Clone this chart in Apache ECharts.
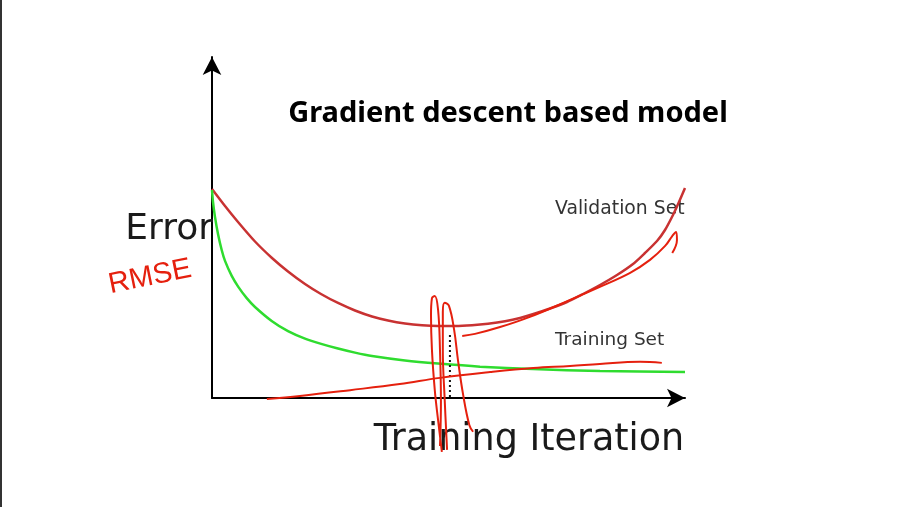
<!DOCTYPE html>
<html>
<head>
<meta charset="utf-8">
<script src="https://cdn.jsdelivr.net/npm/echarts@6/dist/echarts.min.js"></script>
<style>
html,body{margin:0;padding:0;background:#fff;}
#chart{width:910px;height:507px;}
</style>
</head>
<body>
<div id="chart"></div>
<script>
// Curves in axis units (x: 0..100 iterations, y: 0..100 error)
const validationX = [0, 2.75, 5.50, 9.09, 12.68, 16.07, 19.66, 23.04, 26.64, 30.23, 33.83, 37.21, 40.80, 44.40, 47.78, 51.37, 54.97, 58.35, 61.95, 65.12, 68.29, 71.46, 75.05, 78.44, 82.03, 85.62, 89.01, 91.54, 94.08, 95.77, 97.46, 98.73, 100];
const validationY = [61.29, 56.30, 51.61, 45.89, 41.06, 37.10, 33.43, 30.50, 27.86, 25.66, 23.90, 22.73, 21.85, 21.32, 21.11, 21.11, 21.32, 21.76, 22.49, 23.46, 24.78, 26.25, 28.15, 30.50, 33.14, 36.07, 39.30, 42.52, 46.04, 49.27, 53.67, 57.48, 61.58];
const trainingX = [0, 0.21, 0.63, 1.27, 2.05, 2.75, 4.17, 5.56, 7.34, 9.09, 12.62, 16.07, 19.66, 23.26, 26.64, 30.23, 33.83, 40.80, 47.78, 56.66, 67.86, 82.03, 100];
const trainingY = [61.0, 57.5, 53.1, 48.1, 43.4, 40.2, 35.8, 32.6, 29.3, 26.7, 22.6, 19.6, 17.4, 15.8, 14.5, 13.3, 12.3, 11.0, 10.1, 9.2, 8.5, 7.9, 7.6];

// Handwritten annotation strokes (axis units)
const strokeBottomX = [11.6, 18.6, 29.2, 39.7, 48.2, 58.8, 67.9, 75.7, 82.0, 90.5, 95.1];
const strokeBottomY = [-0.3, 0.6, 2.3, 4.1, 5.9, 7.6, 8.8, 9.4, 10.0, 10.6, 10.3];
const strokeArrowX = [52.9, 55.6, 60.9, 67.2, 75.1, 82.0, 88.4, 92.6, 95.8, 97.3, 98.1, 98.3, 97.3];
const strokeArrowY = [18.2, 18.8, 20.8, 23.8, 28.4, 32.6, 36.7, 40.5, 44.6, 47.5, 48.7, 46.3, 42.5];
const loopAX = [48.6, 47.8, 47.1, 46.5, 46.3, 46.5, 47.1, 47.8, 48.2, 48.4, 48.2];
const loopAY = [-15.8, -6.5, 2.3, 14.1, 24.3, 29.3, 29.9, 25.8, 14.1, -0.9, -14.1];
const loopBX = [49.7, 49.2, 48.8, 48.8, 49.2, 50.1, 51.2, 52.0, 53.1, 54.4, 55.2];
const loopBY = [-15.2, -0.6, 14.1, 25.2, 27.9, 27.0, 19.9, 11.1, 0.9, -7.9, -9.9];
const dottedX = [50.3, 50.3];
const dottedY = [18.5, 0];

const titleText = 'Gradient descent based model';
const yLabel = 'Error';
const xLabel = 'Training Iteration';
const validationLabel = 'Validation Set';
const trainingLabel = 'Training Set';
const noteText = 'RMSE';

function pairs(xs, ys) { return xs.map((x, i) => [x, ys[i]]); }

const chart = echarts.init(document.getElementById('chart'));
const axisCommon = {
  type: 'value', min: 0, max: 100,
  axisLine: { show: true, symbol: ['none', 'arrow'], symbolSize: [14, 18], symbolOffset: [0, 0],
    lineStyle: { color: '#000', width: 2 } },
  axisTick: { show: false }, axisLabel: { show: false }, splitLine: { show: false }
};
const annot = { color: '#e5200e', width: 2 };
chart.setOption({
  animation: false,
  grid: { left: 212, right: 225, top: 57, bottom: 109 },
  xAxis: Object.assign({}, axisCommon),
  yAxis: Object.assign({}, axisCommon),
  graphic: [
    { type: 'rect', left: 0, top: 0, shape: { width: 2, height: 507 }, style: { fill: '#333' }, z: 0 },
    { type: 'text', x: 508, y: 114, z: 1, style: { text: titleText, font: 'bold 29px "Noto Sans"', fill: '#000', textAlign: 'center', textVerticalAlign: 'middle' } },
    { type: 'text', x: 213, y: 230, z: 1, style: { text: yLabel, font: '36px "DejaVu Sans"', fill: '#1a1a1a', textAlign: 'right', textVerticalAlign: 'middle' } },
    { type: 'text', x: 529, y: 441, z: 1, style: { text: xLabel, font: '36.5px "DejaVu Sans"', fill: '#1a1a1a', textAlign: 'center', textVerticalAlign: 'middle' } },
    { type: 'text', x: 555, y: 209, z: 1, style: { text: validationLabel, font: '18.8px "DejaVu Sans"', fill: '#333', textAlign: 'left', textVerticalAlign: 'middle' } },
    { type: 'text', x: 555, y: 340, z: 1, style: { text: trainingLabel, font: '18.5px "DejaVu Sans"', fill: '#333', textAlign: 'left', textVerticalAlign: 'middle' } },
    { type: 'text', x: 150, y: 277, rotation: 0.2, z: 1, style: { text: noteText, font: '29px "Liberation Sans"', fill: '#e5200e', textAlign: 'center', textVerticalAlign: 'middle' } }
  ],
  series: [
    { type: 'line', data: pairs(validationX, validationY), smooth: 0.25, symbol: 'none', clip: false,
      lineStyle: { color: '#c83232', width: 2.5 } },
    { type: 'line', data: pairs(trainingX, trainingY), smooth: 0.25, symbol: 'none', clip: false,
      lineStyle: { color: '#2fdc2f', width: 2.5 } },
    { type: 'line', data: pairs(dottedX, dottedY), symbol: 'none', clip: false,
      lineStyle: { color: '#111', width: 2, type: [2, 3] } },
    { type: 'line', data: pairs(strokeBottomX, strokeBottomY), smooth: 0.4, symbol: 'none', clip: false, lineStyle: annot },
    { type: 'line', data: pairs(strokeArrowX, strokeArrowY), smooth: 0.4, symbol: 'none', clip: false, lineStyle: annot },
    { type: 'line', data: pairs(loopAX, loopAY), smooth: 0.4, symbol: 'none', clip: false, lineStyle: annot },
    { type: 'line', data: pairs(loopBX, loopBY), smooth: 0.4, symbol: 'none', clip: false, lineStyle: annot }
  ]
});
</script>
</body>
</html>
